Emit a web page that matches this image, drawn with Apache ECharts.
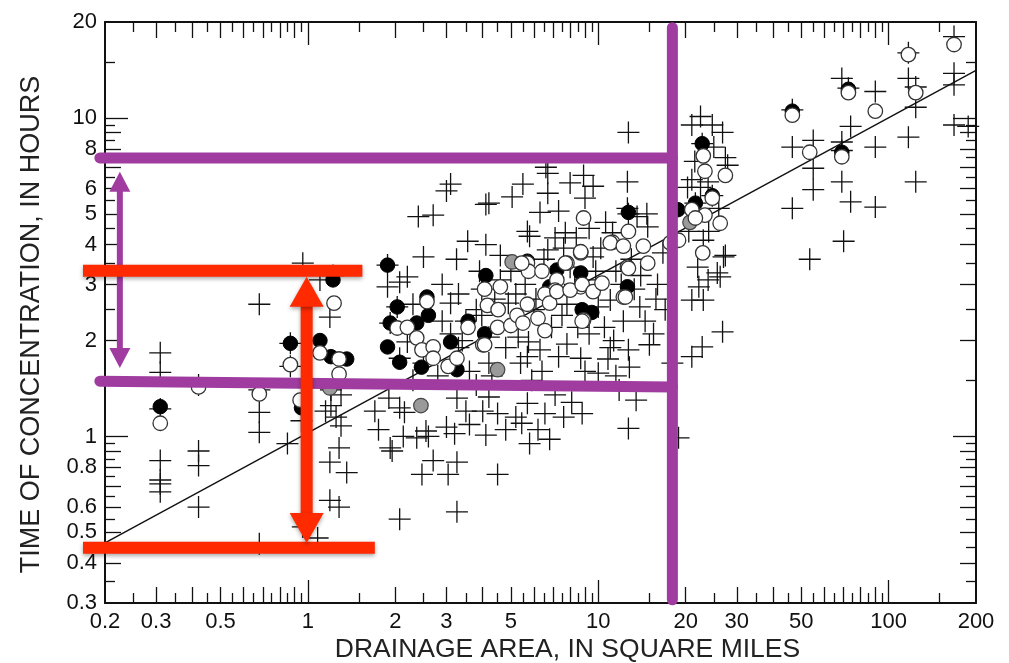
<!DOCTYPE html>
<html>
<head>
<meta charset="utf-8">
<script src="https://cdn.jsdelivr.net/npm/echarts@6/dist/echarts.min.js"></script>
<style>
html, body { margin: 0; padding: 0; background: #fff; }
#chart { width: 1009px; height: 663px; }
</style>
</head>
<body>
<div id="chart"></div>
<script>
// axis ranges, labels and ticks (real units, log scale)
const xRange = [0.2, 200];
const yRange = [0.3, 20];
const xLabels = [0.2, 0.3, 0.5, 1, 2, 3, 5, 10, 20, 30, 50, 100, 200];
const yLabels = [0.3, 0.4, 0.5, 0.6, 0.8, 1, 2, 3, 4, 5, 6, 8, 10, 20];
const xMajorTicks = [1, 10, 100];
const yMajorTicks = [1, 10];
const xMidTicks = [0.3, 0.4, 0.5, 0.6, 0.7, 0.8, 0.9, 2, 3, 4, 5, 6, 7, 8, 9, 20, 30, 40, 50, 60, 70, 80, 90];
const yMidTicks = [0.4, 0.5, 0.6, 0.7, 0.8, 0.9, 2, 3, 4, 5, 6, 7, 8, 9];
const xMinorTicks = [0.25, 0.35, 0.45, 0.55, 0.65, 0.75, 0.85, 0.95, 1.5, 2.5, 3.5, 4.5, 5.5, 6.5, 7.5, 8.5, 9.5,
    15, 25, 35, 45, 55, 65, 75, 85, 95, 150];
const yMinorTicks = [0.35, 0.45, 0.55, 0.65, 0.75, 0.85, 0.95, 1.5, 2.5, 3.5, 4.5, 5.5, 6.5, 7.5, 8.5, 9.5, 15];

// [drainage area (sq mi), time of concentration (h)]
const crossPts = [
    [0.31, 1.83], [0.31, 1.59], [0.31, 1.22], [0.31, 0.84], [0.31, 0.73], [0.31, 0.71], [0.31, 0.67],
    [0.42, 1.45], [0.42, 0.9], [0.42, 0.81], [0.42, 0.6],
    [0.68, 2.6], [0.68, 1.4], [0.68, 1.19], [0.68, 1.03], [0.68, 0.46],
    [0.85, 0.95], [0.87, 1.96], [0.87, 1.66], [0.96, 3.5], [0.96, 0.52], [1.08, 0.48], [0.95, 1.12],
    [1.1, 3.1], [1.19, 2.37], [1.2, 1.25], [1.15, 1.2], [1.28, 0.92], [1.19, 0.83], [1.36, 0.77],
    [1.19, 0.63], [1.28, 0.6], [1.2, 1.4], [1.3, 1.35], [1.25, 1.15], [1.22, 3.2], [1.3, 1.08],
    [1.88, 3.45], [1.88, 2.95], [2.07, 3.05], [2.2, 3.17], [1.92, 2.27], [2.03, 2.55], [2.2, 1.98],
    [2.07, 1.76], [2.5, 1.7], [2.4, 4.9], [2.7, 4.95], [2.5, 3.66], [2.07, 1.23], [2.15, 1.19],
    [1.92, 0.92], [1.95, 0.9], [2.13, 1.0], [2.37, 0.99], [2.6, 1.0], [2.55, 1.04], [2.7, 0.84],
    [2.47, 0.76], [2.07, 0.55], [1.75, 1.05], [1.7, 1.2], [1.9, 1.32],
    [2.3, 2.6], [2.9, 2.3], [2.9, 3.0], [3.3, 2.8], [2.8, 1.55], [2.3, 1.5], [3.6, 1.6],
    [3.1, 6.2], [3.0, 5.9], [3.55, 4.1], [4.1, 4.0], [3.25, 3.6], [4.2, 5.4], [4.1, 5.35], [5.05, 5.65],
    [5.5, 6.2], [3.1, 2.62], [3.5, 2.3], [3.97, 2.4], [4.2, 2.05], [4.9, 2.62], [3.1, 2.1], [3.97, 2.9],
    [4.6, 3.1], [3.3, 1.9], [3.0, 1.07], [3.26, 1.32], [3.6, 1.09], [4.1, 1.01], [4.5, 0.76], [3.26, 0.58],
    [4.2, 1.33], [4.5, 1.18], [3.04, 0.76], [3.26, 0.83], [5.2, 1.15], [4.8, 1.05], [3.2, 1.02],
    [4.0, 1.2], [3.5, 1.2], [3.8, 1.45], [4.3, 1.55],
    [3.4, 2.0], [3.8, 2.5], [4.4, 2.7], [4.8, 1.9], [3.9, 3.3], [4.6, 3.7], [4.2, 1.7],
    [5.7, 4.4], [5.8, 4.25], [6.7, 6.7], [6.7, 5.8], [6.3, 5.05], [7.3, 5.1], [7.1, 4.2], [6.7, 3.85],
    [5.3, 2.05], [5.75, 1.98], [6.3, 1.87], [7.3, 1.78], [5.7, 1.78], [6.0, 2.5], [7.5, 2.4],
    [5.7, 1.27], [6.55, 1.18], [5.8, 0.95], [7.1, 1.35], [5.45, 1.1], [6.2, 1.05], [7.6, 1.15], [6.8, 0.98],
    [8.0, 6.25], [8.9, 6.6], [9.6, 6.1], [9.0, 5.6], [7.7, 4.36], [8.0, 3.4], [9.6, 3.66], [10.0, 2.55],
    [8.7, 1.76], [10.0, 1.58], [8.8, 1.18], [8.1, 1.28], [9.3, 2.1], [8.5, 2.2], [6.6, 7.0], [5.9, 1.5],
    [5.2, 2.8], [5.6, 3.0], [6.1, 2.7], [6.9, 2.2], [7.8, 2.6], [8.3, 3.0], [9.0, 3.1], [9.8, 3.3],
    [6.5, 3.6], [7.6, 3.9], [8.4, 4.2], [9.3, 4.5], [5.0, 3.3], [5.4, 1.7], [6.4, 1.6], [7.8, 1.95],
    [9.0, 1.6],
    [12.7, 9.0], [12.6, 6.3], [10.6, 4.7], [14.7, 5.0], [14.8, 4.55], [16.7, 3.77], [13.6, 4.9],
    [11.2, 4.36], [11.0, 2.68], [13.9, 2.55], [12.2, 2.3], [14.5, 2.3], [12.7, 1.87], [11.0, 1.9],
    [12.8, 1.65], [15.0, 1.94], [12.7, 1.06], [18.0, 1.7], [18.9, 0.99], [12.7, 5.0], [12.6, 5.2],
    [15.5, 2.1], [17.0, 2.5], [16.0, 3.0], [11.5, 3.3], [13.0, 3.6], [11.8, 1.4], [13.5, 1.3],
    [10.5, 2.2], [11.3, 2.0], [12.0, 3.0], [13.3, 2.9], [14.0, 3.2], [15.8, 2.7], [10.2, 3.9],
    [10.8, 1.75], [11.5, 1.55],
    [21.0, 9.5], [22.5, 10.1], [26.8, 9.0], [24.7, 9.5], [27.4, 7.5], [21.0, 6.4], [20.3, 6.05],
    [22.5, 6.05], [23.9, 6.3], [27.9, 7.1], [23.0, 4.13], [27.0, 3.66], [23.9, 3.1], [22.2, 2.95],
    [23.0, 2.68], [21.0, 2.68], [25.7, 3.26], [26.8, 2.13], [22.8, 1.91], [21.0, 1.78], [27.4, 3.7],
    [26.3, 3.17], [22.8, 8.3], [21.6, 5.4], [24.7, 5.7],
    [20.5, 4.4], [22.0, 3.4], [24.0, 4.4], [26.0, 5.2], [21.5, 7.3], [25.0, 8.1],
    [46.6, 5.2], [74, 5.45], [90, 5.25], [70, 4.1], [53.5, 3.6], [46.6, 10.6], [46.6, 8.1], [55, 8.5],
    [55, 6.95], [55, 5.95], [69, 13.3], [74, 9.4], [69, 8.4], [69, 6.3], [72.7, 12.4], [90, 12.1],
    [90, 8.1], [117, 16], [117, 13.3], [124, 12.5], [124, 10.8], [117, 8.7], [124, 6.3], [168, 18],
    [168, 13.8], [168, 12.7], [168, 9.5], [188, 9.4], [69, 7.9]
];
const solidPts = [
    [0.31, 1.24], [0.87, 1.96], [1.1, 2.0], [1.2, 1.78], [1.36, 1.75], [0.95, 1.23], [1.22, 3.1],
    [1.88, 3.45], [2.03, 2.55], [1.92, 2.27], [2.37, 2.27], [2.6, 2.4], [1.88, 1.91], [2.07, 1.71],
    [2.46, 1.65], [3.1, 1.98], [3.26, 1.62], [4.1, 3.2], [3.56, 2.3], [4.06, 2.1], [2.57, 2.74],
    [8.7, 3.26], [8.8, 2.5], [12.6, 2.95], [12.7, 5.05], [22.8, 8.3], [21.6, 5.4], [24.7, 5.7],
    [18.8, 5.15], [46.6, 10.5], [69, 7.8], [72.7, 12.3], [5.7, 3.55], [7.2, 3.33], [6.8, 2.95], [9.5, 2.45]
];
const grayPts = [[5.05, 3.53], [4.5, 1.62], [2.45, 1.25], [1.19, 1.42], [20.7, 4.7]];
const openPts = [
    [0.31, 1.1], [0.42, 1.43], [0.68, 1.36], [0.87, 1.68], [1.1, 1.83], [1.28, 1.75], [1.28, 1.57],
    [0.94, 1.3], [1.23, 2.62],
    [2.57, 2.65], [2.03, 2.19], [2.2, 2.2], [2.37, 2.04], [2.47, 1.87], [2.7, 1.91], [2.7, 1.76],
    [3.04, 1.66], [3.26, 1.76], [3.56, 2.2], [4.0, 1.94], [4.06, 2.9], [4.6, 2.95], [4.15, 2.58],
    [4.52, 2.5], [4.5, 2.2], [5.0, 2.23], [5.25, 2.4], [5.5, 2.27], [6.2, 2.35], [6.55, 2.15],
    [5.7, 3.5], [5.75, 3.3], [6.4, 3.3], [7.2, 3.1], [7.1, 2.88], [6.55, 2.8], [6.8, 2.62], [5.7, 2.6],
    [5.45, 3.5], [7.2, 2.85], [8.7, 2.95], [11.2, 4.07], [12.6, 3.4], [7.8, 3.5], [8.9, 2.32],
    [12.2, 2.74], [4.06, 1.94], [8.7, 3.77],
    [8.9, 4.85], [12.7, 4.4], [11.0, 4.05], [12.2, 3.96], [14.3, 3.96], [14.8, 3.5], [12.7, 3.37],
    [8.7, 3.8], [7.7, 3.5], [8.0, 2.88], [8.8, 3.0], [9.6, 2.85], [10.3, 3.03], [12.4, 2.74], [8.8, 2.3],
    [17.7, 4.05],
    [23.0, 7.6], [23.3, 6.8], [27.4, 6.6], [24.7, 5.6], [21.0, 5.15], [23.3, 4.95], [21.6, 4.85],
    [26.3, 4.67], [18.9, 4.13], [22.9, 3.77],
    [46.6, 10.2], [53.5, 7.8], [69, 7.55], [72.7, 12.0], [90, 10.5], [117, 15.8], [124, 12.0], [168, 17.0]
];
// regression line end points
const fitLine = [[0.2, 0.463], [200, 14.1]];

// overlay marks, in the same units
const purpleBars = [
    [[0.192, 7.49], [18.0, 7.49]],
    [[0.192, 1.49], [18.0, 1.43]],
    [[18.0, 19.2], [18.0, 0.307]]
];
const purpleArrow = [[0.225, 6.77], [0.225, 1.64]];
const redBars = [
    [[0.168, 3.31], [1.54, 3.31]],
    [[0.168, 0.447], [1.70, 0.447]]
];
const redArrow = [[0.99, 3.17], [0.99, 0.463]];

const FONT = "'Liberation Sans', Arial, Helvetica, sans-serif";
const INK = '#111';
const lg = v => Math.log10(v);
const toXY = pts => pts.map(p => [lg(p[0]), lg(p[1])]);

function makeAxis(dim, pos, ticks, len, extra) {
    const range = dim === 'x' ? xRange : yRange;
    return Object.assign({
        type: 'value',
        gridIndex: 0,
        position: pos,
        min: lg(range[0]),
        max: lg(range[1]),
        axisLine: { show: false, onZero: false },
        axisTick: {
            show: true, inside: true, length: len,
            customValues: ticks.map(lg),
            lineStyle: { color: INK, width: 1.3 }
        },
        axisLabel: { show: false },
        splitLine: { show: false }
    }, extra || {});
}

const frameLine = { show: true, onZero: false, lineStyle: { color: INK, width: 2 } };
const fmt = v => String(+Math.pow(10, v).toPrecision(2));

const xAxes = [
    makeAxis('x', 'bottom', xMajorTicks, 23, {
        axisLine: frameLine,
        axisLabel: {
            show: true, customValues: xLabels.map(lg), formatter: fmt,
            margin: 8, fontSize: 22, color: INK, fontFamily: FONT
        },
        name: 'DRAINAGE AREA, IN SQUARE MILES',
        nameLocation: 'middle',
        nameGap: 33,
        nameMoveOverlap: false,
        nameTextStyle: { fontSize: 26.5, color: '#222', fontFamily: FONT, padding: [0, 0, 0, 54] }
    }),
    makeAxis('x', 'bottom', xMidTicks, 16),
    makeAxis('x', 'bottom', xMinorTicks, 10),
    makeAxis('x', 'top', xMajorTicks, 23, { axisLine: frameLine }),
    makeAxis('x', 'top', xMidTicks, 16),
    makeAxis('x', 'top', xMinorTicks, 10)
];
const yAxes = [
    makeAxis('y', 'left', yMajorTicks, 23, {
        axisLine: frameLine,
        axisLabel: {
            show: true, customValues: yLabels.map(lg), formatter: fmt,
            margin: 8, fontSize: 22, color: INK, fontFamily: FONT
        },
        name: 'TIME OF CONCENTRATION, IN HOURS',
        nameLocation: 'middle',
        nameGap: 60,
        nameMoveOverlap: false,
        nameTextStyle: { fontSize: 27, color: '#222', fontFamily: FONT, padding: [0, 24, 0, 0] }
    }),
    makeAxis('y', 'left', yMidTicks, 16),
    makeAxis('y', 'left', yMinorTicks, 10),
    makeAxis('y', 'right', yMajorTicks, 23, { axisLine: frameLine }),
    makeAxis('y', 'right', yMidTicks, 16),
    makeAxis('y', 'right', yMinorTicks, 10)
];

const chart = echarts.init(document.getElementById('chart'));
chart.setOption({
    animation: false,
    backgroundColor: '#fff',
    grid: { left: 105, right: 33, top: 22, bottom: 60, containLabel: false, outerBoundsMode: 'none' },
    xAxis: xAxes,
    yAxis: yAxes,
    series: [
        {
            type: 'scatter', data: toXY(crossPts),
            symbol: 'path://M10,0L10,20M0,10L20,10', symbolSize: 22,
            itemStyle: { color: 'transparent', borderColor: INK, borderWidth: 1.3, opacity: 1 },
            silent: true, z: 2
        },
        {
            type: 'line', data: toXY(fitLine), symbol: 'none',
            lineStyle: { color: INK, width: 1.4 }, silent: true, z: 3
        },
        {
            type: 'scatter', data: toXY(solidPts), symbol: 'circle', symbolSize: 14.5,
            itemStyle: { color: '#000', borderColor: '#000', borderWidth: 1, opacity: 1 },
            silent: true, z: 4
        },
        {
            type: 'scatter', data: toXY(grayPts), symbol: 'circle', symbolSize: 14.5,
            itemStyle: { color: '#9a9a9a', borderColor: '#444', borderWidth: 1.2, opacity: 1 },
            silent: true, z: 5
        },
        {
            type: 'scatter', data: toXY(openPts), symbol: 'circle', symbolSize: 14.5,
            itemStyle: { color: '#fff', borderColor: '#333', borderWidth: 1.3, opacity: 1 },
            silent: true, z: 6
        }
    ]
});

// overlay: thick lines and double arrows, placed via the chart's own scales
const px = p => chart.convertToPixel({ seriesIndex: 0 }, [lg(p[0]), lg(p[1])]);
const PURPLE = '#a03ca0';
const RED = '#ff2a00';
const redShadow = { shadowBlur: 4, shadowColor: 'rgba(0,0,0,0.35)', shadowOffsetY: 2 };

function bar(seg, color, width, cap, extraStyle) {
    const a = px(seg[0]), b = px(seg[1]);
    return {
        type: 'line', z: 100,
        shape: { x1: a[0], y1: a[1], x2: b[0], y2: b[1] },
        style: Object.assign({ stroke: color, lineWidth: width, lineCap: cap }, extraStyle || {})
    };
}

function doubleArrow(seg, color, shaftW, headW, headL, extraStyle) {
    const a = px(seg[0]), b = px(seg[1]);
    const x = a[0], y1 = a[1], y2 = b[1];
    const st = Object.assign({ fill: color }, extraStyle || {});
    return [
        { type: 'rect', z: 100, shape: { x: x - shaftW / 2, y: y1 + headL - 1, width: shaftW, height: y2 - y1 - 2 * headL + 2 }, style: st },
        { type: 'polygon', z: 100, shape: { points: [[x, y1], [x - headW / 2, y1 + headL], [x + headW / 2, y1 + headL]] }, style: st },
        { type: 'polygon', z: 100, shape: { points: [[x, y2], [x - headW / 2, y2 - headL], [x + headW / 2, y2 - headL]] }, style: st }
    ];
}

const overlay = []
    .concat(purpleBars.map(s => bar(s, PURPLE, 11, 'round')))
    .concat(doubleArrow(purpleArrow, PURPLE, 6, 21, 20))
    .concat(redBars.map(s => bar(s, RED, 12, 'butt', redShadow)))
    .concat(doubleArrow(redArrow, RED, 12, 34, 30, redShadow));

chart.setOption({ graphic: overlay });
</script>
</body>
</html>
